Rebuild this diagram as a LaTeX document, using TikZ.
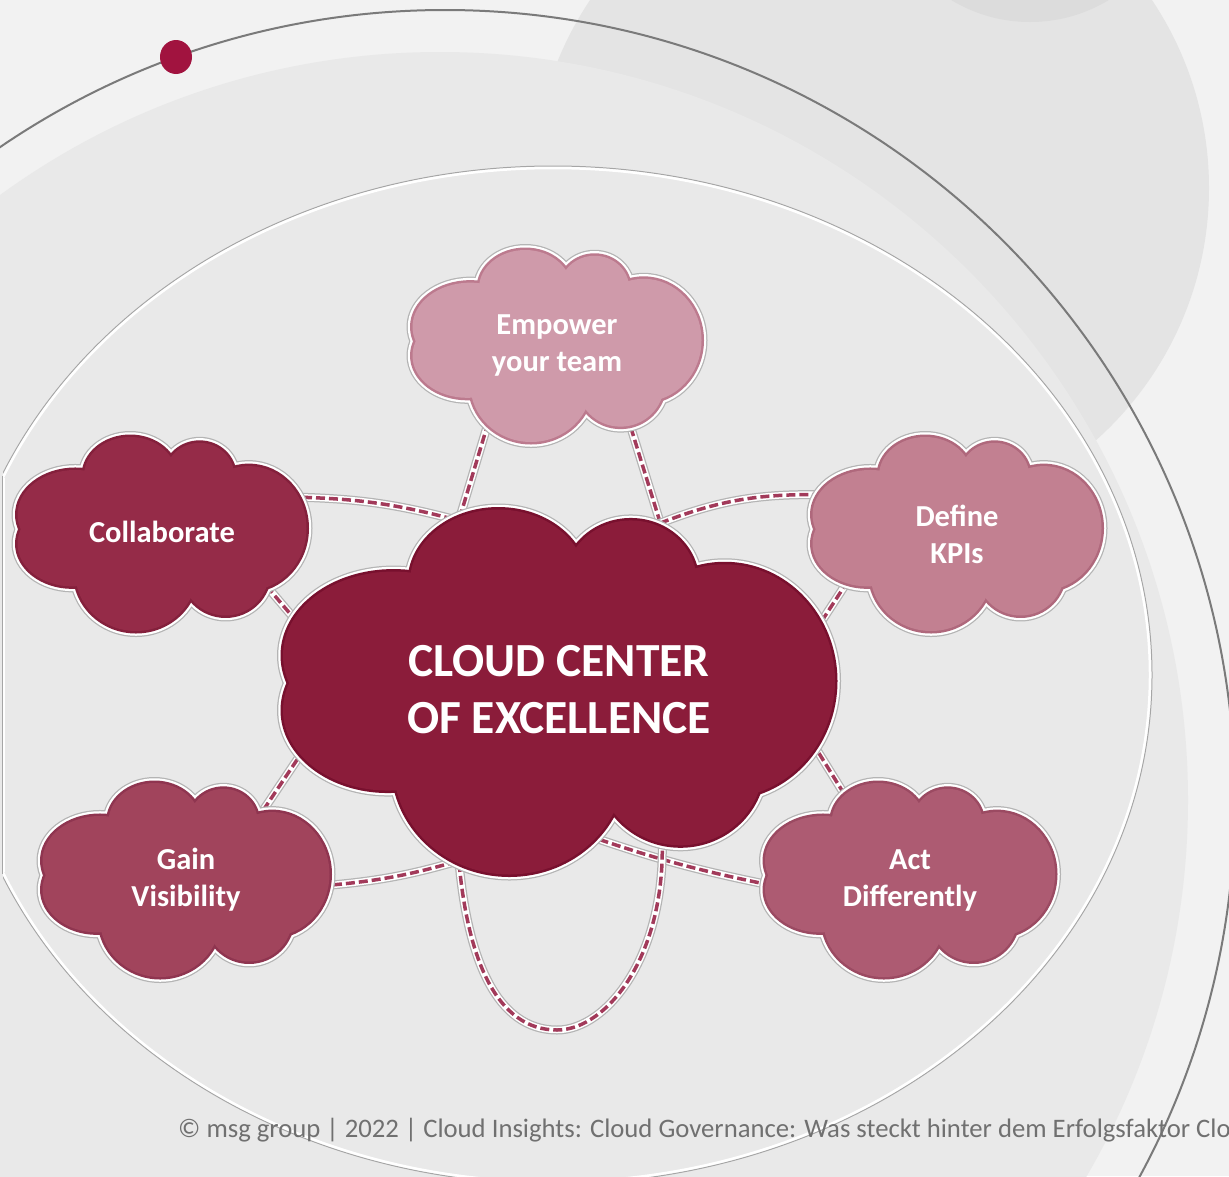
\documentclass[tikz,border=0pt]{standalone}
\usepackage{fontspec}
\setmainfont{Carlito}
\usetikzlibrary{shapes.symbols}
\pgfdeclarelayer{bg}
\pgfdeclarelayer{mid}
\pgfsetlayers{bg,mid,main}
\definecolor{bgc}{HTML}{F2F2F2}
\definecolor{dtwo}{HTML}{E4E4E4}
\definecolor{dthree}{HTML}{DCDCDC}
\definecolor{done}{HTML}{E9E9E9}
\definecolor{arcc}{HTML}{7A7A7A}
\definecolor{dotc}{HTML}{A1133F}
\definecolor{connc}{HTML}{A23A5A}
\definecolor{footc}{HTML}{707070}
\definecolor{halo}{HTML}{B4B4B4}
\definecolor{cfillA}{HTML}{8B1C3A}\definecolor{cedgeA}{HTML}{78102E}
\definecolor{cfillE}{HTML}{CF9AAA}\definecolor{cedgeE}{HTML}{BC7A8E}
\definecolor{cfillC}{HTML}{952B48}\definecolor{cedgeC}{HTML}{84203C}
\definecolor{cfillK}{HTML}{C28091}\definecolor{cedgeK}{HTML}{AF687C}
\definecolor{cfillG}{HTML}{A1445C}\definecolor{cedgeG}{HTML}{8F3550}
\definecolor{cfillD}{HTML}{AD5B72}\definecolor{cedgeD}{HTML}{9B4A62}
% cloud = union of ellipses in a unit box (x right, y down): cx/cy/rx/ry
\def\cloudbumps{0.20/0.40/0.20/0.23, 0.39/0.20/0.16/0.20, 0.63/0.20/0.12/0.17,
  0.80/0.47/0.20/0.32, 0.72/0.70/0.15/0.22, 0.41/0.70/0.21/0.30,
  0.19/0.55/0.19/0.22, 0.50/0.48/0.33/0.33}
\newcommand\unioncloud[6]{% cx, cy, w, h, fill, edge
  \pgfmathsetmacro\ucw{#3-10}%
  \pgfmathsetmacro\uch{#4-10}%
  \begin{scope}[shift={(#1-#3/2+5,#2-#4/2+5)}, x=\ucw pt, y=-\uch pt]
    \foreach \a/\b/\c/\d in \cloudbumps {\draw[halo, line width=12pt] (\a,\b) ellipse[x radius=\c, y radius=\d];}
    \foreach \a/\b/\c/\d in \cloudbumps {\draw[white, line width=9.5pt] (\a,\b) ellipse[x radius=\c, y radius=\d];}
    \foreach \a/\b/\c/\d in \cloudbumps {\draw[#6, line width=5pt] (\a,\b) ellipse[x radius=\c, y radius=\d];}
    \foreach \a/\b/\c/\d in \cloudbumps {\fill[#5] (\a,\b) ellipse[x radius=\c, y radius=\d];}
  \end{scope}}
\begin{document}
\begin{tikzpicture}[x=1pt,y=-1pt, line join=round,
  anchorcloud/.style={cloud, cloud puffs=11, cloud puff arc=110, cloud ignores aspect,
    inner sep=0pt, align=center, text=white},
  smallcloud/.style={minimum width=299pt, minimum height=204pt,
    font=\bfseries\fontsize{30.5}{37}\selectfont},
  bigcloud/.style={minimum width=562pt, minimum height=375pt,
    font=\bfseries\fontsize{47.5}{57}\selectfont},
  conn/.style={draw=connc, line width=3.5pt, dash pattern=on 9pt off 4pt,
    preaction={draw=halo, solid, line width=9pt},
    preaction={draw=white, solid, line width=6.5pt}},
  ringline/.style={draw=black!35, line width=1pt},
  ringwhite/.style={draw=white, line width=2.5pt}
]
\useasboundingbox (0,0) rectangle (1229,1176);
\begin{pgfonlayer}{bg}
  \fill[bgc] (0,0) rectangle (1229,1176);
  \begin{scope}
    \clip (0,0) rectangle (1229,1176);
    \fill[dtwo] (871,188) circle[radius=338];
    \fill[dthree] (1030,-130) circle[radius=152];
    \fill[done] (440,800) circle[radius=748];
    \begin{scope}
      \clip (3,0) rectangle (1229,1176);
      \draw[ringline] (553,675) ellipse[x radius=599, y radius=509];
      \draw[ringwhite] (553,675) ellipse[x radius=597, y radius=507];
    \end{scope}
    \draw[ringline] (2,476) -- (2,874);
    \draw[ringwhite] (4,478) -- (4,872);
    \draw[arcc, line width=2pt] (445,800) circle[radius=790];
  \end{scope}
  \fill[dotc] (176,57) ellipse[x radius=16, y radius=17];
\end{pgfonlayer}

\unioncloud{559}{692}{562}{375}{cfillA}{cedgeA}
\unioncloud{557}{346}{299}{202}{cfillE}{cedgeE}
\unioncloud{162}{534}{299}{204}{cfillC}{cedgeC}
\unioncloud{957}{534}{299}{204}{cfillK}{cedgeK}
\unioncloud{186}{880}{297}{204}{cfillG}{cedgeG}
\unioncloud{910}{880}{300}{204}{cfillD}{cedgeD}

\node[anchorcloud, bigcloud] (center) at (559,690) {CLOUD CENTER\\OF EXCELLENCE};
\node[anchorcloud, smallcloud] (empower) at (557,346) {Empower\\your team};
\node[anchorcloud, smallcloud] (collab) at (162,532) {Collaborate};
\node[anchorcloud, smallcloud] (kpi) at (957,534) {Define\\KPIs};
\node[anchorcloud, smallcloud] (gain) at (186,880) {Gain\\Visibility};
\node[anchorcloud, smallcloud] (act) at (910,880) {Act\\Differently};

\coordinate (ubot) at (557,1030);

\begin{pgfonlayer}{mid}
  \draw[conn] ([shift={(128,-35)}]collab.center) to[bend left=7] ([shift={(-95,-168)}]center.center);
  \draw[conn] ([shift={(96,44)}]collab.center) -- ([shift={(-244,-47)}]center.center);
  \draw[conn] ([shift={(-65,64)}]empower.center) -- ([shift={(-103,-160)}]center.center);
  \draw[conn] ([shift={(70,69)}]empower.center) -- ([shift={(105,-155)}]center.center);
  \draw[conn] ([shift={(89,-162)}]center.center) to[bend left=12] ([shift={(-127,-39)}]kpi.center);
  \draw[conn] ([shift={(-102,36)}]kpi.center) -- ([shift={(253,-54)}]center.center);
  \draw[conn] ([shift={(134,6)}]gain.center) to[bend right=6] ([shift={(-91,168)}]center.center);
  \draw[conn] ([shift={(70,-59)}]gain.center) -- ([shift={(-246,46)}]center.center);
  \draw[conn] ([shift={(16,141)}]center.center) to[bend right=4] ([shift={(-135,6)}]act.center);
  \draw[conn] ([shift={(-59,-75)}]act.center) -- ([shift={(253,52)}]center.center);
  \draw[conn] ([shift={(-101,160)}]center.center) .. controls +(8,110) and +(-60,0) .. (ubot)
              .. controls +(50,0) and +(5,120) .. ([shift={(103,145)}]center.center);
\end{pgfonlayer}

\node[anchor=base west, inner sep=0pt, text=footc, font=\fontsize{26.7}{32}\selectfont] (footer) at (178,1137)
  {© msg group | 2022 | Cloud Insights: Cloud Governance: Was steckt hinter dem Erfolgsfaktor Clo};
\end{tikzpicture}
\end{document}
